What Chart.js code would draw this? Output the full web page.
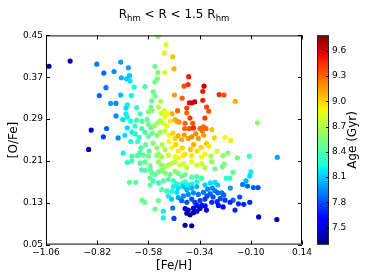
<!DOCTYPE html>
<html>
<head>
<meta charset="utf-8">
<script src="https://cdn.jsdelivr.net/npm/chart.js@4.4.1/dist/chart.umd.min.js"></script>
<style>
  html, body { margin: 0; padding: 0; background: #fff; }
  #wrap { width: 374px; height: 280px; }
</style>
</head>
<body>
<div id="wrap"><canvas id="chart" width="374" height="280"></canvas></div>
<script>
/*****************************************
 * 1. DATA
 *****************************************/
// [Fe/H] of each star
const feh = [
  -1.046, -0.947, -0.822, -0.710, -0.741, -0.674, -0.789, -0.707, -0.682, -0.669,
  -0.666, -0.779, -0.647, -0.810, -0.710, -0.660, -0.757, -0.732, -0.679, -0.685,
  -0.635, -0.685, -0.619, -0.732, -0.700, -0.679, -0.663, -0.635, -0.611, -0.848,
  -0.776, -0.791, -0.722, -0.860, -0.535, -0.497, -0.505, -0.466, -0.460, -0.549,
  -0.536, -0.503, -0.596, -0.549, -0.538, -0.557, -0.549, -0.564, -0.391, -0.413,
  -0.394, -0.319, -0.325, -0.458, -0.422, -0.248, -0.226, -0.173, -0.325, -0.388,
  -0.376, -0.363, -0.307, -0.400, -0.297, -0.400, -0.443, -0.469, -0.315, -0.568,
  -0.580, -0.562, -0.533, -0.522, -0.518, -0.505, -0.489, -0.502, -0.069, -0.385,
  -0.447, -0.372, -0.322, -0.410, -0.388, -0.369, -0.338, -0.310, -0.282, -0.271,
  -0.221, -0.194, -0.308, -0.296, -0.258, -0.315, -0.287, -0.230, -0.208, -0.163,
  -0.107, 0.024, -0.643, -0.611, -0.586, -0.580, -0.568, -0.552, -0.536, -0.524,
  -0.508, -0.493, -0.477, -0.455, -0.436, -0.408, -0.327, -0.679, -0.657, -0.690,
  -0.643, -0.624, -0.596, -0.580, -0.562, -0.540, -0.524, -0.502, -0.483, -0.465,
  -0.455, -0.440, -0.424, -0.412, -0.393, -0.377, -0.358, -0.346, -0.321, -0.663,
  -0.630, -0.615, -0.593, -0.577, -0.558, -0.540, -0.533, -0.515, -0.502, -0.483,
  -0.471, -0.452, -0.440, -0.421, -0.408, -0.383, -0.368, -0.352, -0.333, -0.698,
  -0.619, -0.657, -0.632, -0.604, -0.580, -0.541, -0.518, -0.487, -0.455, -0.440,
  -0.416, -0.377, -0.330, -0.679, -0.658, -0.619, -0.596, -0.572, -0.533, -0.518,
  -0.502, -0.487, -0.471, -0.455, -0.432, -0.416, -0.400, -0.377, -0.353, -0.330,
  -0.315, -0.283, -0.268, -0.233, -0.224, -0.612, -0.596, -0.572, -0.564, -0.549,
  -0.533, -0.518, -0.502, -0.479, -0.455, -0.440, -0.424, -0.408, -0.377, -0.353,
  -0.330, -0.669, -0.638, -0.572, -0.557, -0.533, -0.510, -0.487, -0.463, -0.447,
  -0.424, -0.408, -0.393, -0.377, -0.353, -0.315, -0.572, -0.290, -0.268, -0.255,
  -0.215, -0.199, -0.183, -0.100, -0.105, -0.122, -0.463, -0.440, -0.416, -0.400,
  -0.377, -0.353, -0.518, -0.494, -0.471, -0.447, -0.302, -0.280, -0.268, -0.290,
  -0.305, -0.277, -0.255, -0.236, -0.227, -0.243, -0.221, -0.258, -0.283, -0.196,
  -0.138, -0.116, -0.088, -0.066, -0.183, -0.152, -0.158, -0.133, -0.105, -0.197,
  -0.252, -0.230, -0.314, -0.308, -0.174, -0.063, 0.022, -0.487, -0.471, -0.440,
  -0.416, -0.393, -0.369, -0.346, -0.322, -0.377, -0.362, -0.338, -0.315, -0.353,
  -0.330, -0.400, -0.424, -0.610, -0.597, -0.533, -0.549, -0.408, -0.393, -0.369,
  -0.353, -0.338, -0.400, -0.385, -0.369, -0.466, -0.460, -0.510, -0.510, -0.408,
  -0.377
];

// [O/Fe] of each star
const ofe = [
  0.391, 0.401, 0.395, 0.399, 0.381, 0.388, 0.378, 0.369, 0.367, 0.373,
  0.363, 0.350, 0.351, 0.335, 0.336, 0.335, 0.320, 0.320, 0.317, 0.311,
  0.312, 0.300, 0.300, 0.296, 0.289, 0.294, 0.286, 0.288, 0.286, 0.269,
  0.272, 0.256, 0.254, 0.232, 0.448, 0.432, 0.416, 0.409, 0.386, 0.391,
  0.379, 0.379, 0.352, 0.361, 0.367, 0.342, 0.334, 0.325, 0.371, 0.353,
  0.356, 0.353, 0.343, 0.336, 0.330, 0.337, 0.336, 0.324, 0.326, 0.321,
  0.321, 0.323, 0.313, 0.311, 0.305, 0.302, 0.306, 0.300, 0.292, 0.313,
  0.304, 0.306, 0.313, 0.324, 0.301, 0.306, 0.300, 0.295, 0.283, 0.292,
  0.286, 0.282, 0.275, 0.272, 0.272, 0.273, 0.272, 0.272, 0.270, 0.254,
  0.255, 0.249, 0.243, 0.238, 0.229, 0.223, 0.219, 0.220, 0.225, 0.216,
  0.219, 0.217, 0.277, 0.272, 0.289, 0.280, 0.274, 0.277, 0.283, 0.287,
  0.282, 0.277, 0.286, 0.289, 0.284, 0.282, 0.267, 0.273, 0.265, 0.259,
  0.262, 0.255, 0.265, 0.257, 0.263, 0.259, 0.265, 0.267, 0.259, 0.263,
  0.253, 0.258, 0.251, 0.260, 0.253, 0.256, 0.262, 0.253, 0.259, 0.247,
  0.247, 0.235, 0.241, 0.229, 0.244, 0.235, 0.223, 0.241, 0.232, 0.247,
  0.235, 0.241, 0.229, 0.235, 0.223, 0.232, 0.241, 0.229, 0.236, 0.225,
  0.226, 0.219, 0.220, 0.221, 0.219, 0.220, 0.218, 0.221, 0.218, 0.216,
  0.220, 0.220, 0.218, 0.207, 0.210, 0.206, 0.208, 0.201, 0.208, 0.202,
  0.199, 0.202, 0.205, 0.208, 0.202, 0.205, 0.197, 0.208, 0.202, 0.205,
  0.197, 0.208, 0.195, 0.199, 0.204, 0.193, 0.192, 0.193, 0.187, 0.184,
  0.189, 0.192, 0.187, 0.184, 0.190, 0.186, 0.181, 0.184, 0.179, 0.180,
  0.177, 0.169, 0.169, 0.177, 0.172, 0.168, 0.172, 0.175, 0.172, 0.166,
  0.166, 0.170, 0.164, 0.166, 0.170, 0.164, 0.164, 0.168, 0.169, 0.164,
  0.177, 0.177, 0.188, 0.189, 0.181, 0.172, 0.161, 0.158, 0.161, 0.155,
  0.158, 0.161, 0.155, 0.153, 0.152, 0.150, 0.156, 0.158, 0.153, 0.147,
  0.143, 0.141, 0.149, 0.149, 0.145, 0.138, 0.135, 0.132, 0.131, 0.158,
  0.165, 0.162, 0.159, 0.159, 0.135, 0.141, 0.128, 0.127, 0.131, 0.131,
  0.125, 0.122, 0.124, 0.116, 0.116, 0.103, 0.098, 0.143, 0.137, 0.140,
  0.143, 0.146, 0.149, 0.146, 0.150, 0.137, 0.131, 0.134, 0.137, 0.125,
  0.125, 0.131, 0.134, 0.135, 0.131, 0.134, 0.118, 0.119, 0.116, 0.120,
  0.114, 0.119, 0.110, 0.107, 0.111, 0.120, 0.100, 0.101, 0.114, 0.087,
  0.086
];

// Age (Gyr) of each star, used for the colour
const age = [
  7.35, 7.40, 7.90, 8.00, 7.95, 8.00, 7.85, 8.05, 8.10, 8.10,
  8.15, 7.90, 8.25, 7.85, 8.05, 8.20, 8.00, 7.95, 8.20, 8.15,
  8.30, 8.20, 8.35, 7.95, 8.15, 8.20, 8.25, 8.35, 8.40, 7.50,
  7.85, 7.75, 7.95, 7.40, 8.60, 8.85, 8.80, 9.05, 9.10, 8.50,
  8.55, 8.80, 8.40, 8.50, 8.55, 8.50, 8.50, 8.45, 9.50, 9.35,
  9.45, 9.60, 9.50, 9.15, 9.30, 9.45, 9.35, 9.10, 9.50, 9.55,
  9.60, 9.65, 9.40, 9.40, 9.35, 9.30, 9.30, 9.10, 9.40, 8.50,
  8.55, 8.55, 8.70, 8.70, 8.75, 8.85, 8.90, 8.85, 8.60, 9.40,
  9.15, 9.35, 9.30, 9.30, 9.35, 9.45, 9.30, 9.30, 9.05, 9.00,
  8.90, 8.95, 9.05, 8.95, 8.80, 8.85, 8.70, 8.60, 8.55, 8.50,
  8.35, 8.00, 8.30, 8.40, 8.45, 8.50, 8.50, 8.60, 8.65, 8.70,
  8.80, 8.85, 8.95, 9.10, 9.15, 9.30, 9.25, 8.15, 8.20, 8.15,
  8.25, 8.30, 8.40, 8.45, 8.50, 8.55, 8.65, 8.75, 8.90, 9.00,
  9.00, 9.10, 9.10, 9.15, 9.15, 9.20, 9.20, 9.15, 9.15, 8.25,
  8.35, 8.40, 8.45, 8.45, 8.55, 8.60, 8.60, 8.70, 8.70, 8.90,
  8.90, 9.00, 8.95, 9.00, 8.95, 9.05, 9.10, 9.00, 9.00, 8.20,
  8.40, 8.40, 8.40, 8.45, 8.50, 8.60, 8.65, 8.80, 8.85, 8.90,
  8.95, 8.95, 8.90, 8.30, 8.35, 8.40, 8.45, 8.50, 8.60, 8.60,
  8.65, 8.70, 8.75, 8.75, 8.80, 8.80, 8.75, 8.85, 8.80, 8.80,
  8.70, 8.60, 8.50, 8.50, 8.55, 8.40, 8.40, 8.45, 8.45, 8.45,
  8.50, 8.55, 8.55, 8.50, 8.60, 8.55, 8.45, 8.50, 8.40, 8.40,
  8.35, 8.45, 8.45, 8.45, 8.40, 8.35, 8.40, 8.40, 8.35, 8.30,
  8.30, 8.30, 8.20, 8.25, 8.25, 8.10, 8.45, 8.15, 8.15, 8.10,
  8.30, 8.30, 8.45, 8.20, 8.15, 8.05, 8.20, 8.15, 8.10, 8.05,
  8.05, 8.05, 8.40, 8.35, 8.25, 8.15, 7.95, 7.95, 7.90, 7.85,
  7.80, 7.80, 7.85, 7.90, 7.85, 7.80, 7.75, 7.70, 7.70, 8.00,
  7.90, 7.85, 7.85, 7.80, 7.85, 7.80, 7.70, 7.70, 7.70, 7.70,
  7.65, 7.60, 7.60, 7.50, 7.70, 7.45, 7.40, 8.20, 8.10, 8.00,
  7.95, 7.95, 7.95, 7.90, 7.90, 7.80, 7.75, 7.75, 7.75, 7.65,
  7.65, 7.80, 7.85, 8.50, 8.50, 8.50, 8.50, 7.50, 7.45, 7.50,
  7.45, 7.50, 7.40, 7.35, 7.40, 7.90, 7.75, 8.20, 8.20, 7.35,
  7.35
];

// tick labels
const xTicks = [-1.06, -0.82, -0.58, -0.34, -0.10, 0.14];
const yTicks = [0.05, 0.13, 0.21, 0.29, 0.37, 0.45];
const ageTicks = [7.5, 7.8, 8.1, 8.4, 8.7, 9.0, 9.3, 9.6];
const ageMin = 7.30;
const ageMax = 9.78;

/*****************************************
 * 2. HELPERS
 *****************************************/
const FONT = '"DejaVu Sans", sans-serif';

// matplotlib "jet" colour map, f in [0, 1]
function jet(f) {
  f = Math.max(0, Math.min(1, f));
  let r, g, b;
  if (f < 0.35) r = 0;
  else if (f < 0.66) r = (f - 0.35) / 0.31;
  else if (f < 0.89) r = 1;
  else r = 1 - 0.5 * (f - 0.89) / 0.11;
  if (f < 0.125) g = 0;
  else if (f < 0.375) g = (f - 0.125) / 0.25;
  else if (f < 0.64) g = 1;
  else if (f < 0.91) g = 1 - (f - 0.64) / 0.27;
  else g = 0;
  if (f < 0.11) b = 0.5 + 0.5 * f / 0.11;
  else if (f < 0.34) b = 1;
  else if (f < 0.65) b = 1 - (f - 0.34) / 0.31;
  else b = 0;
  return 'rgb(' + Math.round(r * 255) + ',' + Math.round(g * 255) + ',' + Math.round(b * 255) + ')';
}

// matplotlib style minus sign
function fmt(v, d) {
  const s = Math.abs(v).toFixed(d);
  return v < -1e-9 ? '\u2212' + s : s;
}

/*****************************************
 * 3. PLUGINS: frame, inward ticks, colorbar, title
 *****************************************/
const decorations = {
  id: 'decorations',
  afterDraw(chart) {
    const { ctx, chartArea: a, scales } = chart;
    ctx.save();
    ctx.strokeStyle = '#000';
    ctx.lineWidth = 1;

    // inward tick marks on all four sides
    const tl = 4;
    ctx.beginPath();
    xTicks.forEach(v => {
      const px = Math.round(scales.x.getPixelForValue(v)) + 0.5;
      ctx.moveTo(px, a.bottom); ctx.lineTo(px, a.bottom - tl);
      ctx.moveTo(px, a.top); ctx.lineTo(px, a.top + tl);
    });
    yTicks.forEach(v => {
      const py = Math.round(scales.y.getPixelForValue(v)) + 0.5;
      ctx.moveTo(a.left, py); ctx.lineTo(a.left + tl, py);
      ctx.moveTo(a.right, py); ctx.lineTo(a.right - tl, py);
    });
    ctx.stroke();

    // axes frame
    ctx.strokeRect(a.left + 0.5, a.top + 0.5, a.right - a.left - 1, a.bottom - a.top - 1);

    // colorbar
    const ag = scales.age;
    const cTop = ag.getPixelForValue(ageMax);
    const cBot = ag.getPixelForValue(ageMin);
    const cx = a.right + 15;
    const cw = 12;
    const grad = ctx.createLinearGradient(0, cBot, 0, cTop);
    for (let i = 0; i <= 40; i++) grad.addColorStop(i / 40, jet(i / 40));
    ctx.fillStyle = grad;
    ctx.fillRect(cx, cTop, cw, cBot - cTop);
    ctx.strokeStyle = '#222';
    ctx.strokeRect(cx + 0.5, cTop + 0.5, cw - 1, cBot - cTop - 1);
    ctx.strokeStyle = '#000';
    ctx.beginPath();
    ageTicks.forEach(v => {
      const py = Math.round(ag.getPixelForValue(v)) + 0.5;
      ctx.moveTo(cx + cw, py); ctx.lineTo(cx + cw - 3, py);
    });
    ctx.stroke();

    // colorbar label, reading upwards
    ctx.fillStyle = '#000';
    ctx.font = '12px ' + FONT;
    ctx.textAlign = 'center';
    ctx.textBaseline = 'middle';
    ctx.translate(353, (cTop + cBot) / 2);
    ctx.rotate(-Math.PI / 2);
    ctx.fillText('Age (Gyr)', 0, 0);
    ctx.setTransform(1, 0, 0, 1, 0, 0);

    // title with subscripts: R_hm < R < 1.5 R_hm
    const parts = [
      ['R', false], ['hm', true], [' < R < 1.5 ', false], ['R', false], ['hm', true]
    ];
    const big = '12px ' + FONT;
    const small = '8.5px ' + FONT;
    ctx.textAlign = 'left';
    ctx.textBaseline = 'alphabetic';
    let total = 0;
    parts.forEach(p => { ctx.font = p[1] ? small : big; total += ctx.measureText(p[0]).width; });
    let x = (a.left + a.right) / 2 - total / 2;
    parts.forEach(p => {
      ctx.font = p[1] ? small : big;
      ctx.fillText(p[0], x, p[1] ? 21 : 18);
      x += ctx.measureText(p[0]).width;
    });
    ctx.restore();
  }
};

/*****************************************
 * 4. CHART
 *****************************************/
const points = feh.map((x, i) => ({ x: x, y: ofe[i] }));
const colors = age.map(a => jet((a - ageMin) / (ageMax - ageMin)));

new Chart(document.getElementById('chart'), {
  type: 'scatter',
  data: {
    datasets: [{
      data: points,
      backgroundColor: colors,
      borderWidth: 0,
      pointRadius: 2.6,
      pointHoverRadius: 2.6
    }]
  },
  options: {
    responsive: false,
    animation: false,
    devicePixelRatio: 1,
    layout: { padding: { top: 22, left: 0, right: 0, bottom: 0 } },
    plugins: { legend: { display: false }, tooltip: { enabled: false } },
    scales: {
      x: {
        type: 'linear',
        min: -1.06,
        max: 0.14,
        grid: { display: false, drawTicks: false },
        border: { display: false },
        afterBuildTicks: s => { s.ticks = xTicks.map(v => ({ value: v })); },
        afterFit: s => { s.height = 35; },
        ticks: {
          padding: 3,
          autoSkip: false,
          maxRotation: 0,
          color: '#000',
          font: { family: FONT, size: 9 },
          callback: v => fmt(v, 2)
        },
        title: {
          display: true,
          text: '[Fe/H]',
          color: '#000',
          font: { family: FONT, size: 12 },
          padding: { top: 0, bottom: 7 }
        }
      },
      y: {
        type: 'linear',
        min: 0.05,
        max: 0.45,
        grid: { display: false, drawTicks: false },
        border: { display: false },
        afterBuildTicks: s => { s.ticks = yTicks.map(v => ({ value: v })); },
        afterFit: s => { s.width = 46; },
        ticks: {
          padding: 3,
          autoSkip: false,
          color: '#000',
          font: { family: FONT, size: 9 },
          callback: v => fmt(v, 2)
        },
        title: {
          display: true,
          text: '[O/Fe]',
          color: '#000',
          font: { family: FONT, size: 12 },
          padding: { top: 7, bottom: 0 }
        }
      },
      age: {
        type: 'linear',
        axis: 'y',
        position: 'right',
        min: ageMin,
        max: ageMax,
        grid: { display: false, drawTicks: false, drawOnChartArea: false },
        border: { display: false },
        afterBuildTicks: s => { s.ticks = ageTicks.map(v => ({ value: v })); },
        afterFit: s => { s.width = 72; },
        ticks: {
          padding: 30,
          autoSkip: false,
          color: '#000',
          font: { family: FONT, size: 9 },
          callback: v => v.toFixed(1)
        }
      }
    }
  },
  plugins: [decorations]
});
</script>
</body>
</html>
